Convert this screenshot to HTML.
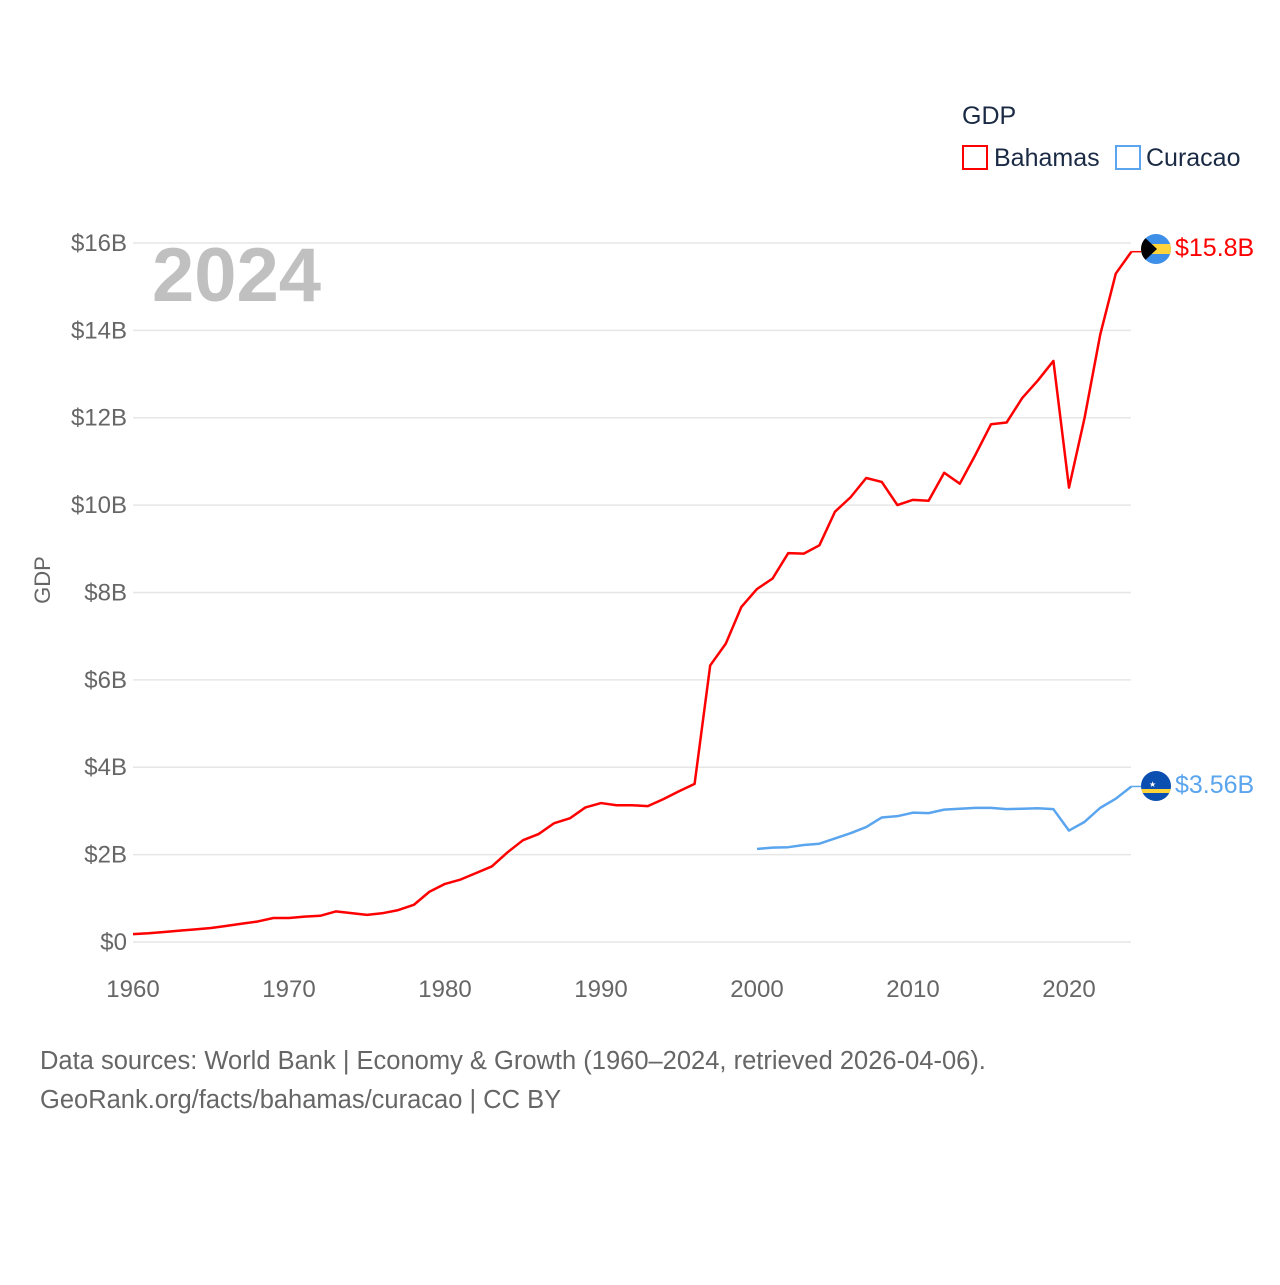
<!DOCTYPE html>
<html><head><meta charset="utf-8">
<style>
body{margin:0;background:#fff;font-family:"Liberation Sans",sans-serif;}
svg text{font-family:"Liberation Sans",sans-serif;}
</style></head>
<body>
<svg id="c" width="1280" height="1280" viewBox="0 0 1280 1280">
<text x="962" y="124" font-size="25" fill="#1a2a44">GDP</text>
<g><rect x="963" y="146" width="24" height="23" fill="none" stroke="#ff0000" stroke-width="2"/><text x="994" y="166" font-size="25" fill="#1a2a44">Bahamas</text></g>
<g><rect x="1116" y="146" width="24" height="23" fill="none" stroke="#5aa5ee" stroke-width="2"/><text x="1146" y="166" font-size="25" fill="#1a2a44">Curacao</text></g>
<text x="152" y="301" font-size="76" font-weight="bold" fill="#c0c0c0">2024</text>
<text transform="translate(50,580) rotate(-90)" text-anchor="middle" font-size="22" fill="#666">GDP</text>
<g id="grid"></g><g id="lines"></g>
<g><clipPath id="cb"><circle cx="1156" cy="249" r="15"/></clipPath><g clip-path="url(#cb)"><rect x="1141" y="234" width="30" height="30" fill="#3d8fe8"/><rect x="1141" y="244" width="30" height="10" fill="#ffd43b"/><polygon points="1141,234 1157,249 1141,264" fill="#000"/></g></g>
<g><clipPath id="cc"><circle cx="1156" cy="786" r="15"/></clipPath><g clip-path="url(#cc)"><rect x="1141" y="771" width="30" height="30" fill="#0b4fb0"/><rect x="1141" y="789" width="30" height="4" fill="#ffd43b"/><text x="1149" y="787" font-size="8" fill="#fff">★</text></g></g>
<text x="1175" y="256" font-size="25" fill="#ff0000">$15.8B</text>
<text x="1175" y="793" font-size="25" fill="#5aa5ee">$3.56B</text>
<text x="40" y="1069" font-size="25.5" fill="#666">Data sources: World Bank | Economy &amp; Growth (1960–2024, retrieved 2026-04-06).</text>
<text x="40" y="1108" font-size="25.5" fill="#666">GeoRank.org/facts/bahamas/curacao | CC BY</text>
</svg>
<script>
const yTicks=[0,2,4,6,8,10,12,14,16];
const xTicks=[1960,1970,1980,1990,2000,2010,2020];
const bahamasYears=[];for(let y=1960;y<=2024;y++)bahamasYears.push(y);
const bahamasValues=[0.18,0.2,0.23,0.26,0.29,0.32,0.37,0.42,0.47,0.55,0.55,0.58,0.6,0.7,0.66,0.62,0.66,0.73,0.85,1.15,1.33,1.43,1.58,1.73,2.05,2.33,2.47,2.72,2.83,3.08,3.18,3.13,3.13,3.11,3.27,3.45,3.62,6.33,6.83,7.67,8.08,8.32,8.9,8.89,9.08,9.85,10.18,10.62,10.53,10.0,10.12,10.1,10.74,10.49,11.15,11.85,11.89,12.45,12.85,13.3,10.4,12.0,13.9,15.3,15.8];
const curacaoYears=[];for(let y=2000;y<=2024;y++)curacaoYears.push(y);
const curacaoValues=[2.13,2.16,2.17,2.22,2.25,2.37,2.49,2.63,2.85,2.88,2.96,2.95,3.03,3.05,3.07,3.07,3.04,3.05,3.06,3.04,2.55,2.75,3.07,3.28,3.56];
const NS="http://www.w3.org/2000/svg";
const xs=v=>133+(v-1960)*15.6;
const ys=v=>942-v*43.69;
const grid=document.getElementById('grid'),lines=document.getElementById('lines');
function mk(tag,attrs,parent){const e=document.createElementNS(NS,tag);for(const k in attrs)e.setAttribute(k,attrs[k]);parent.appendChild(e);return e;}
yTicks.forEach(t=>{
  const l=mk('line',{x1:133,x2:1131,y1:ys(t),y2:ys(t),stroke:'#e6e6e6','stroke-width':1.5},grid);
  
  
  const tx=mk('text',{x:127,y:ys(t)+8,'text-anchor':'end','font-size':24,fill:'#666'},grid);
  tx.textContent='$'+(t===0?'0':t+'B');
  
  
});
xTicks.forEach(t=>{
  const tx=mk('text',{x:xs(t),y:997,'text-anchor':'middle','font-size':24,fill:'#666'},grid);
  tx.textContent=t;
  
  
});
function line(years,vals,color,name){
  const pts=years.map((y,i)=>xs(y)+','+ys(vals[i])).join(' ');
  const p=mk('polyline',{points:pts,fill:'none',stroke:color,'stroke-width':2.5,'stroke-linejoin':'round'},lines);
  
  
  const last=vals[vals.length-1];
  const c=mk('line',{x1:xs(years[years.length-1]),x2:1141,y1:ys(last),y2:ys(last),stroke:color,'stroke-width':1.5},lines);
  
  
}
line(bahamasYears,bahamasValues,'#ff0000','bahamas-line');
line(curacaoYears,curacaoValues,'#5aa5ee','curacao-line');
</script>
</body></html>
